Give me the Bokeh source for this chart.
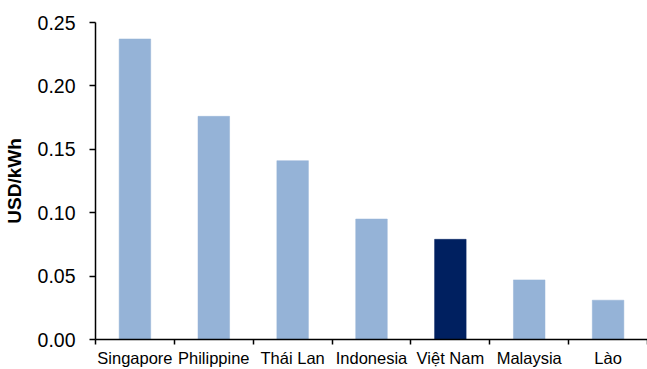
from bokeh.plotting import figure
from bokeh.models import (ColumnDataSource, Range1d, FixedTicker,
                          NumeralTickFormatter)
from bokeh.embed import file_html
from bokeh.resources import INLINE

# Electricity price by country (USD/kWh)
countries = ["Singapore", "Philippine", "Thái Lan", "Indonesia",
             "Việt Nam", "Malaysia", "Lào"]
prices = [0.237, 0.176, 0.141, 0.095, 0.079, 0.047, 0.031]
y_ticks = [0.00, 0.05, 0.10, 0.15, 0.20, 0.25]

LIGHT = "#95B3D7"
DARK = "#002060"
FONT = "Liberation Sans"

centers = [i + 0.5 for i in range(len(countries))]
colors = [DARK if c == "Việt Nam" else LIGHT for c in countries]

source = ColumnDataSource(dict(x=centers, price=prices, country=countries,
                               color=colors))

p = figure(width=647, height=369,
           x_range=Range1d(0, len(countries)),
           y_range=Range1d(0, 0.25),
           output_backend="svg", toolbar_location=None,
           min_border_left=94, min_border_right=0,
           min_border_top=22, min_border_bottom=29)

p.vbar(x="x", top="price", width=0.4, source=source,
       fill_color="color", line_color="color", line_width=0.5)

p.outline_line_color = None
p.xgrid.grid_line_color = None
p.ygrid.grid_line_color = None
p.background_fill_color = "white"
p.border_fill_color = "white"

# x axis: labels at bar centres, tick marks at category boundaries
xa = p.xaxis[0]
xa.ticker = FixedTicker(ticks=centers,
                        minor_ticks=list(range(len(countries) + 1)))
xa.major_label_overrides = {c: name for c, name in zip(centers, countries)}
xa.major_tick_out = 0
xa.major_tick_in = 0
xa.minor_tick_out = 5
xa.minor_tick_in = 0
xa.minor_tick_line_color = "black"
xa.minor_tick_line_width = 1.5
xa.axis_line_color = "black"
xa.axis_line_width = 1.5
xa.major_label_text_font = FONT
xa.major_label_text_font_size = "16.5px"
xa.major_label_text_color = "black"
xa.major_label_standoff = 4

ya = p.yaxis[0]
ya.ticker = FixedTicker(ticks=y_ticks, minor_ticks=[])
ya.formatter = NumeralTickFormatter(format="0.00")
ya.major_tick_out = 6
ya.major_tick_in = 0
ya.major_tick_line_color = "black"
ya.major_tick_line_width = 1.5
ya.axis_line_color = "black"
ya.axis_line_width = 1.5
ya.major_label_text_font = FONT
ya.major_label_text_font_size = "19.5px"
ya.major_label_text_color = "black"
ya.major_label_standoff = 14
ya.axis_label = "USD/kWh"
ya.axis_label_text_font = FONT
ya.axis_label_text_font_size = "19px"
ya.axis_label_text_font_style = "bold"
ya.axis_label_text_color = "black"
ya.axis_label_standoff = 10

open("out.html", "w").write(file_html(p, INLINE))
